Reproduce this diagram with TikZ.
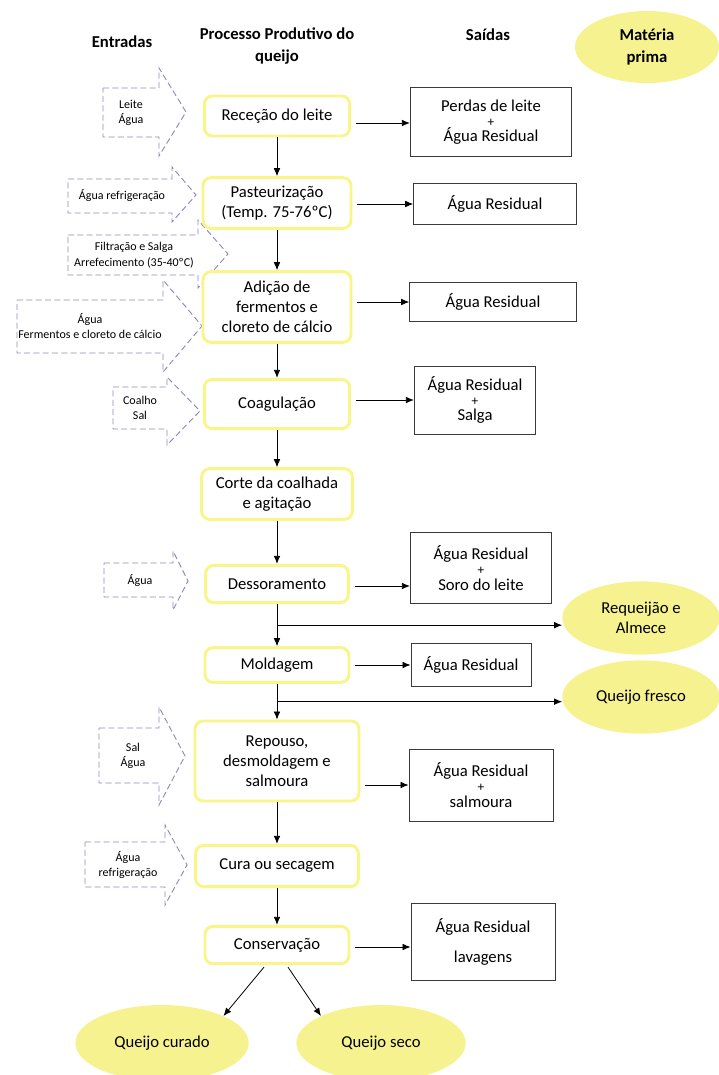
\documentclass[tikz,border=0pt]{standalone}
\usepackage{fontspec}
\setmainfont{Carlito}
\usepackage{xcolor}
\usepackage{tikz}
\usetikzlibrary{arrows.meta, positioning, calc, shapes.geometric}
\definecolor{amarelo}{HTML}{F7F290}
\definecolor{bordaam}{HTML}{FAF58A}
\definecolor{lilas}{HTML}{9089BA}
\definecolor{contorno}{HTML}{3A3A3A}
\newcommand{\juntas}{\lineskiplimit-20pt\relax}
\newcommand{\mais}{{\fontsize{10}{10}\selectfont +}}

\begin{document}
\begin{tikzpicture}[
    x=0.75pt, y=-0.75pt,
    >={Latex[length=6pt, width=5pt]},
    titulo/.style={font=\fontsize{12.5}{16}\selectfont\bfseries, align=center},
    etapa/.style={draw=bordaam, line width=2.2pt, rounded corners=6pt, fill=white, align=center, font=\fontsize{12.5}{15}\selectfont, inner sep=2pt},
    saida/.style={draw=contorno, line width=0.7pt, fill=white, align=center, font=\fontsize{12.5}{11.5}\selectfont\juntas, inner sep=2pt},
    produto/.style={ellipse, fill=amarelo, align=center, font=\fontsize{12.5}{15}\selectfont, inner sep=0pt},
    entrada/.style={draw=lilas, line width=0.7pt, dash pattern=on 4.5pt off 2.5pt},
    txtentrada/.style={align=center, font=\fontsize{9}{11.5}\selectfont},
    fluxo/.style={->, line width=0.6pt},
]
    \useasboundingbox (0,0) rectangle (718,1075);

    % Cabecalhos
    \node[titulo] (hent) at (122,42) {Entradas};
    \node[titulo] (hproc) at (277,46) {Processo Produtivo do\\queijo};
    \node[titulo] (hsai) at (488,35) {Saídas};
    \node[produto, minimum width=108pt, minimum height=54pt, font=\fontsize{12.5}{16}\selectfont\bfseries] (mp) at (647,47) {Matéria\\prima};

    % Entradas (setas tracejadas)
    \draw[entrada] (103,88) -- (159,88) -- (159,68) -- (186,112) -- (159,156) -- (159,137) -- (103,137) -- cycle;
    \node[txtentrada] (e1) at (131,113) {Leite\\Água};
    \draw[entrada] (68,179) -- (172,179) -- (172,167) -- (196,195) -- (172,222) -- (172,213) -- (68,213) -- cycle;
    \node[txtentrada] (e2) at (122,196) {Água refrigeração};
    \draw[entrada] (68,235) -- (198,235) -- (198,220) -- (228,254) -- (198,288) -- (198,275) -- (68,275) -- cycle;
    \node[txtentrada] (e3) at (134,255) {Filtração e Salga\\Arrefecimento (35-40ºC)};
    \draw[entrada] (17,300) -- (163,300) -- (163,280) -- (202,326) -- (163,372) -- (163,353) -- (17,353) -- cycle;
    \node[txtentrada] (e4) at (90,326) {Água\\Fermentos e cloreto de cálcio};
    \draw[entrada] (113,387) -- (167,387) -- (167,377) -- (200,411) -- (167,445) -- (167,429) -- (113,429) -- cycle;
    \node[txtentrada] (e5) at (140,408) {Coalho\\Sal};
    \draw[entrada] (104,563) -- (173,563) -- (173,551) -- (188,581) -- (173,610) -- (173,597) -- (104,597) -- cycle;
    \node[txtentrada] (e6) at (140,581) {Água};
    \draw[entrada] (99,728) -- (159,728) -- (159,707) -- (185,756) -- (159,805) -- (159,783) -- (99,783) -- cycle;
    \node[txtentrada] (e7) at (133,756) {Sal\\Água};
    \draw[entrada] (85,842) -- (165,842) -- (165,825) -- (187,865) -- (165,905) -- (165,887) -- (85,887) -- cycle;
    \node[txtentrada] (e8) at (128,865) {Água\\refrigeração};

    % Processo
    \node[etapa, minimum width=109pt, minimum height=30pt] (rec) at (277,116) {Receção do leite};
    \node[etapa, minimum width=111pt, minimum height=38pt] (past) at (277,203) {Pasteurização\\(Temp. 75-76ºC)};
    \node[etapa, minimum width=111pt, minimum height=53pt] (adic) at (277,307) {Adição de\\fermentos e\\cloreto de cálcio};
    \node[etapa, minimum width=109pt, minimum height=37pt] (coag) at (277,404) {Coagulação};
    \node[etapa, minimum width=113pt, minimum height=38pt] (corte) at (277,494) {Corte da coalhada\\e agitação};
    \node[etapa, minimum width=107pt, minimum height=28pt] (dess) at (277,584) {Dessoramento};
    \node[etapa, minimum width=108pt, minimum height=26pt] (mold) at (277,665) {Moldagem};
    \node[etapa, minimum width=123pt, minimum height=60pt] (rep) at (277,761) {Repouso,\\desmoldagem e\\salmoura};
    \node[etapa, minimum width=122pt, minimum height=31pt] (cura) at (277,866) {Cura ou secagem};
    \node[etapa, minimum width=108pt, minimum height=28pt] (cons) at (277,945) {Conservação};

    % Saidas
    \node[saida, minimum width=121pt, minimum height=52pt] (s1) at (491,122) {Perdas de leite\\\mais\\Água Residual};
    \node[saida, minimum width=122pt, minimum height=31pt] (s2) at (495,204) {Água Residual};
    \node[saida, minimum width=125pt, minimum height=29pt] (s3) at (493,302) {Água Residual};
    \node[saida, minimum width=91pt, minimum height=51pt] (s4) at (475,400) {Água Residual\\\mais\\Salga};
    \node[saida, minimum width=106pt, minimum height=53pt] (s5) at (481,568) {Água Residual\\\mais\\Soro do leite};
    \node[saida, minimum width=90pt, minimum height=32pt] (s6) at (471,665) {Água Residual};
    \node[saida, minimum width=108pt, minimum height=54pt] (s7) at (481,785) {Água Residual\\\mais\\salmoura};
    \node[saida, minimum width=108pt, minimum height=58pt] (s8) at (483,942) {Água Residual\\[11pt]lavagens};

    % Produtos
    \node[produto, minimum width=118pt, minimum height=55pt] (req) at (641,618) {Requeijão e\\Almece};
    \node[produto, minimum width=118pt, minimum height=55pt] (fresco) at (641,697) {Queijo fresco};
    \node[produto, minimum width=130pt, minimum height=57pt] (curado) at (162,1043) {Queijo curado};
    \node[produto, minimum width=127pt, minimum height=57pt] (seco) at (381,1043) {Queijo seco};

    % Fluxo principal
    \draw[fluxo] (rec) -- (past);
    \draw[fluxo] (past) -- (adic);
    \draw[fluxo] (adic) -- (coag);
    \draw[fluxo] (coag) -- (corte);
    \draw[fluxo] (corte) -- (dess);
    \draw[fluxo] (dess) -- (mold);
    \draw[fluxo] (mold) -- (rep);
    \draw[fluxo] (rep) -- (cura);
    \draw[fluxo] (cura) -- (cons);

    % Para as saidas
    \draw[fluxo] ($(rec.east |- 0,123)+(5,0)$) -- (s1.west |- 0,123);
    \draw[fluxo] ($(past.east |- s2)+(5,0)$) -- (s2.west);
    \draw[fluxo] ($(adic.east |- s3)+(5,0)$) -- (s3.west);
    \draw[fluxo] ($(coag.east |- s4)+(5,0)$) -- (s4.west);
    \draw[fluxo] ($(dess.east |- 0,586)+(5,0)$) -- (s5.west |- 0,586);
    \draw[fluxo] ($(mold.east |- s6)+(5,0)$) -- (s6.west);
    \draw[fluxo] ($(rep.east |- s7)+(5,0)$) -- (s7.west);
    \draw[fluxo] ($(cons.east |- 0,947)+(5,0)$) -- (s8.west |- 0,947);

    % Derivacoes para produtos
    \coordinate (d1) at ($(dess.south)!0.5!(mold.north)$);
    \coordinate (d2) at ($(mold.south)!0.5!(rep.north)$);
    \draw[fluxo] (d1) -- (req.west |- d1);
    \draw[fluxo] (d2) -- (fresco.west |- d2);
    \draw[fluxo] ($(cons.south)+(-13,2)$) -- (curado.north east);
    \draw[fluxo] ($(cons.south)+(11,2)$) -- (seco.north west);
\end{tikzpicture}
\end{document}
